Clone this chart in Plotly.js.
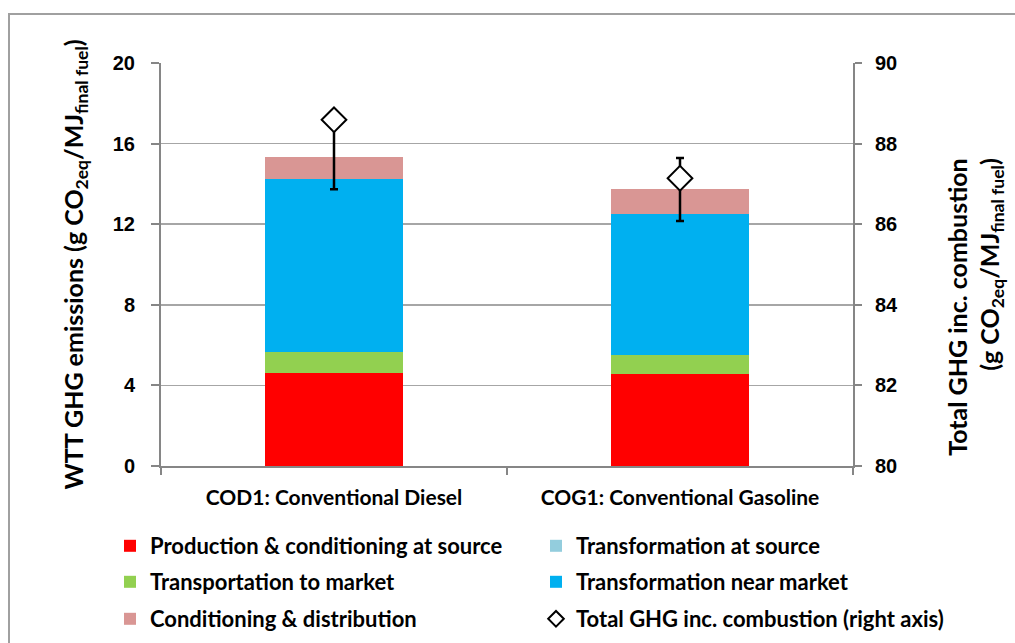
<!DOCTYPE html>
<html>
<head>
<meta charset="utf-8">
<script src="https://cdn.plot.ly/plotly-3.0.1.min.js"></script>
<style>html,body{margin:0;padding:0;background:#fff;}#chart{width:1015px;height:643px;}</style>
</head>
<body>
<div id="chart"></div>
<script>
const categories = ["COD1: Conventional Diesel", "COG1: Conventional Gasoline"];
const production = [4.62, 4.57];
const transformationAtSource = [0, 0];
const transportation = [1.04, 0.94];
const transformationNearMarket = [8.57, 6.98];
const conditioning = [1.09, 1.24];
const totalGHG = [88.59, 87.14];
const totalErrPlus = [0, 0.50];
const totalErrMinus = [1.72, 1.06];

const seriesNames = [
  "Production & conditioning at source",
  "Transformation at source",
  "Transportation to market",
  "Transformation near market",
  "Conditioning & distribution",
  "Total GHG inc. combustion (right axis)"
];

const txtFont = {family: "Lato, 'Open Sans', sans-serif", size: 21, color: "#000", weight: "bold"};
const legFont = {family: "Lato, 'Open Sans', sans-serif", size: 22, color: "#000", weight: "bold"};
const numFont = {family: "'Liberation Sans', Arial, sans-serif", size: 20, color: "#000", weight: "bold"};
const titleFont = {family: "Lato, sans-serif", size: 25, color: "#000", weight: "bold"};

function bar(name, y, color, legend) {
  return {type: "bar", name: name, x: categories, y: y, marker: {color: color, line: {width: 0}},
          legend: legend, hoverinfo: "y+name"};
}

const traces = [
  bar(seriesNames[0], production, "#FF0000", "legend"),
  bar(seriesNames[1], transformationAtSource, "#93CDDD", "legend2"),
  bar(seriesNames[2], transportation, "#92D050", "legend3"),
  bar(seriesNames[3], transformationNearMarket, "#00B0F0", "legend4"),
  bar(seriesNames[4], conditioning, "#D99694", "legend5"),
  {type: "scatter", mode: "markers", name: seriesNames[5], x: categories, y: totalGHG, yaxis: "y2",
   legend: "legend6",
   marker: {symbol: "diamond", size: 19, color: "#FFFFFF", line: {color: "#000", width: 2}},
   error_y: {type: "data", symmetric: false, array: totalErrPlus, arrayminus: totalErrMinus,
             color: "#000", thickness: 2.5, width: 4}}
];

function leg(xpx, ypx, extra) {
  return Object.assign({orientation: "h", xref: "container", yref: "container", xanchor: "left", yanchor: "middle",
    font: legFont, bgcolor: "rgba(0,0,0,0)", itemclick: false, itemdoubleclick: false,
    x: xpx / 1015, y: 1 - ypx / 643}, extra || {});
}
const col1 = 110, col2 = 536;
const rows = [546, 582, 619];
const pad = n => "\u00A0".repeat(n);

const layout = {
  width: 1015, height: 643,
  margin: {l: 161, r: 162, t: 63, b: 177},
  paper_bgcolor: "#fff", plot_bgcolor: "#fff",
  barmode: "stack", bargap: 0.6,
  showlegend: true,
  legend: leg(col1, rows[0]),
  legend2: leg(col2, rows[0]),
  legend3: leg(col1, rows[1]),
  legend4: leg(col2, rows[1]),
  legend5: leg(col1, rows[2]),
  legend6: leg(col2, rows[2], {itemsizing: "constant"}),
  xaxis: {type: "category", showline: true, linecolor: "#868686", linewidth: 2,
          ticks: "outside", tickson: "boundaries", ticklen: 7, tickcolor: "#868686", tickwidth: 2,
          tickfont: txtFont, showgrid: false, zeroline: false, fixedrange: true, ticklabelstandoff: 12,
          automargin: false},
  yaxis: {range: [0, 20], dtick: 4, tick0: 0, showline: true, linecolor: "#868686", linewidth: 2,
          ticks: "outside", ticklen: 8, tickcolor: "#868686", tickwidth: 2, tickfont: numFont,
          showgrid: true, gridcolor: "#A6A6A6", gridwidth: 1.5, zeroline: false, fixedrange: true,
          ticklabelstandoff: 12, automargin: true,
          title: {text: "WTT GHG emissions (g CO<sub>2eq</sub>/MJ<sub>final fuel</sub>)" + pad(8), font: titleFont,
                  standoff: 22}},
  yaxis2: {overlaying: "y", side: "right", range: [80, 90], dtick: 2, tick0: 80,
           showline: true, linecolor: "#868686", linewidth: 2,
           ticks: "outside", ticklen: 7, tickcolor: "#868686", tickwidth: 2, tickfont: numFont,
           showgrid: false, zeroline: false, fixedrange: true, ticklabelstandoff: 9, automargin: true,
           title: {text: "Total GHG inc. combustion" + pad(14) + "<br>(g CO<sub>2eq</sub>/MJ<sub>final fuel</sub>)" + pad(16),
                   font: titleFont, standoff: 52}},
  shapes: [
    {type: "rect", xref: "paper", yref: "paper", x0: (9 - 161) / 692, x1: (1030 - 161) / 692,
     y0: (466 - 660) / 403, y1: (466 - 14) / 403, line: {color: "#A0A0A0", width: 2}, fillcolor: "rgba(0,0,0,0)",
     layer: "below"}
  ]
};

Plotly.newPlot("chart", traces, layout, {displayModeBar: false, staticPlot: true});
</script>
</body>
</html>
